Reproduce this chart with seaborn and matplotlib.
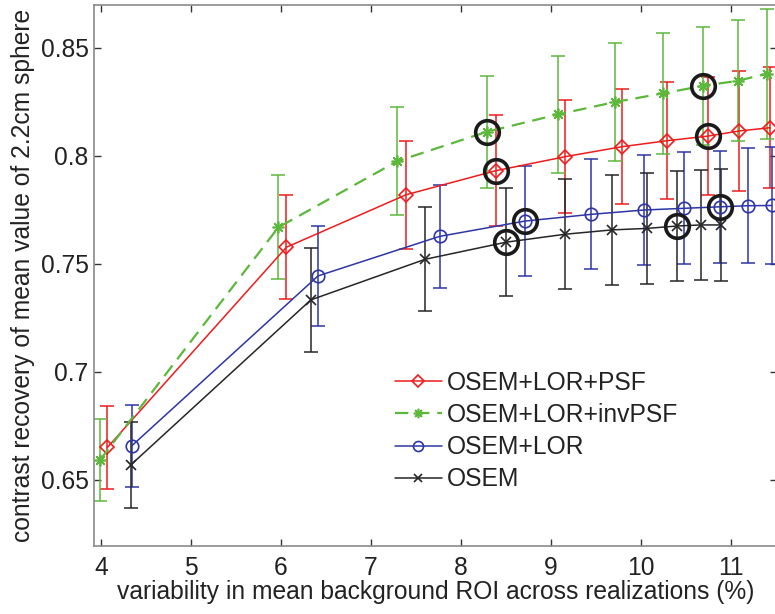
import numpy as np
import pandas as pd
import matplotlib
matplotlib.use("Agg")
import matplotlib.pyplot as plt
import seaborn as sns

# ---- data ----
series_names = ["OSEM+LOR+PSF", "OSEM+LOR+invPSF", "OSEM+LOR", "OSEM"]

psf_x = [4.07, 6.06, 7.39, 8.385, 9.156, 9.785, 10.29, 10.737, 11.09, 11.43]
psf_y = [0.665, 0.7577, 0.782, 0.7931, 0.7996, 0.8042, 0.807, 0.8091, 0.8115, 0.813]
psf_e = [0.019, 0.024, 0.025, 0.0256, 0.026, 0.0267, 0.027, 0.0274, 0.0277, 0.028]

inv_x = [3.99, 5.97, 7.29, 8.285, 9.08, 9.71, 10.24, 10.69, 11.07, 11.40]
inv_y = [0.6593, 0.7669, 0.7975, 0.8111, 0.8192, 0.8249, 0.8289, 0.8324, 0.8347, 0.838]
inv_e = [0.019, 0.024, 0.025, 0.026, 0.027, 0.0273, 0.0279, 0.0274, 0.028, 0.030]

lor_x = [4.34, 6.41, 7.76, 8.71, 9.444, 10.026, 10.48, 10.878, 11.19, 11.45]
lor_y = [0.6657, 0.7444, 0.7627, 0.7698, 0.7729, 0.7749, 0.7757, 0.7764, 0.7769, 0.777]
lor_e = [0.019, 0.023, 0.024, 0.0255, 0.0255, 0.0256, 0.026, 0.026, 0.0267, 0.027]

osem_x = [4.33, 6.33, 7.6, 8.497, 9.156, 9.674, 10.063, 10.396, 10.663, 10.886]
osem_y = [0.6569, 0.7333, 0.7521, 0.760, 0.7637, 0.7657, 0.7664, 0.7675, 0.768, 0.768]
osem_e = [0.020, 0.024, 0.024, 0.025, 0.0255, 0.0256, 0.0256, 0.0255, 0.0256, 0.026]

highlight_idx = [3, 7]

x_ticks = [4, 5, 6, 7, 8, 9, 10, 11]
y_ticks = [0.65, 0.70, 0.75, 0.80, 0.85]
y_tick_labels = ["0.65", "0.7", "0.75", "0.8", "0.85"]

x_label = "variability in mean background ROI across realizations (%)"
y_label = "contrast recovery of mean value of 2.2cm sphere"

# ---- style ----
sns.set_theme(style="ticks")
plt.rcParams["font.family"] = ["Liberation Sans", "DejaVu Sans"]

colors = ["#ee1c1c", "#5cb83a", "#2e35a6", "#262626"]
markers = ["D", (8, 2, 0), "o", "x"]
msizes = [7.5, 8.5, 9, 7]

FS = 17.7

fig = plt.figure(figsize=(7.75, 6.14), dpi=100)
ax = fig.add_axes([94 / 775, 1 - 546 / 614, (776.5 - 94) / 775, (546 - 5) / 614])

all_x = [psf_x, inv_x, lor_x, osem_x]
all_y = [psf_y, inv_y, lor_y, osem_y]
all_e = [psf_e, inv_e, lor_e, osem_e]

handles = []
for i in range(4):
    df = pd.DataFrame({"x": all_x[i], "y": all_y[i]})
    ax.errorbar(all_x[i], all_y[i], yerr=all_e[i], fmt="none",
                ecolor=colors[i], elinewidth=1.1, capsize=5, capthick=1.1, zorder=2)
    ls = "--" if i == 1 else "-"
    lw = 1.6 if i == 1 else 1.1
    sns.lineplot(data=df, x="x", y="y", sort=False, ax=ax, color=colors[i],
                 linewidth=lw, linestyle=ls, marker=markers[i], markersize=msizes[i],
                 markerfacecolor="none", markeredgecolor=colors[i], markeredgewidth=1.2,
                 zorder=3, legend=False)
    line = ax.lines[-1]
    if i == 1:
        line.set_dashes((6, 3.5))
    handles.append(line)

# highlight circles
for i in range(4):
    hx = [all_x[i][k] for k in highlight_idx]
    hy = [all_y[i][k] for k in highlight_idx]
    ax.plot(hx, hy, linestyle="none", marker="o", markersize=17,
            markerfacecolor="none", markeredgecolor="#1a1a1a", markeredgewidth=2.6, zorder=4)

ax.set_xlim(3.922, 11.503)
ax.set_ylim(0.6194, 0.8698)
ax.set_xticks(x_ticks)
ax.set_xticklabels([str(t) for t in x_ticks])
ax.set_yticks(y_ticks)
ax.set_yticklabels(y_tick_labels)
ax.tick_params(direction="in", length=5, width=1, colors="#333333", labelsize=FS,
               top=True, right=True, labelcolor="#222222")
ax.tick_params(axis="x", pad=7)
ax.tick_params(axis="y", pad=4)
for s in ax.spines.values():
    s.set_color("#8a8a8a")
    s.set_linewidth(1.2)

ax.set_xlabel(x_label, fontsize=FS, color="#222222", labelpad=0)
ax.set_ylabel(y_label, fontsize=FS, color="#222222", labelpad=4)

leg = ax.legend(handles, series_names, loc="upper left",
                bbox_to_anchor=(0.441, 0.3235), frameon=False, fontsize=FS,
                handlelength=1.9, handletextpad=0.2, labelspacing=0.33,
                borderpad=0, borderaxespad=0, markerscale=0.8)
for t in leg.get_texts():
    t.set_color("#222222")

fig.savefig("out.png", dpi=100)
